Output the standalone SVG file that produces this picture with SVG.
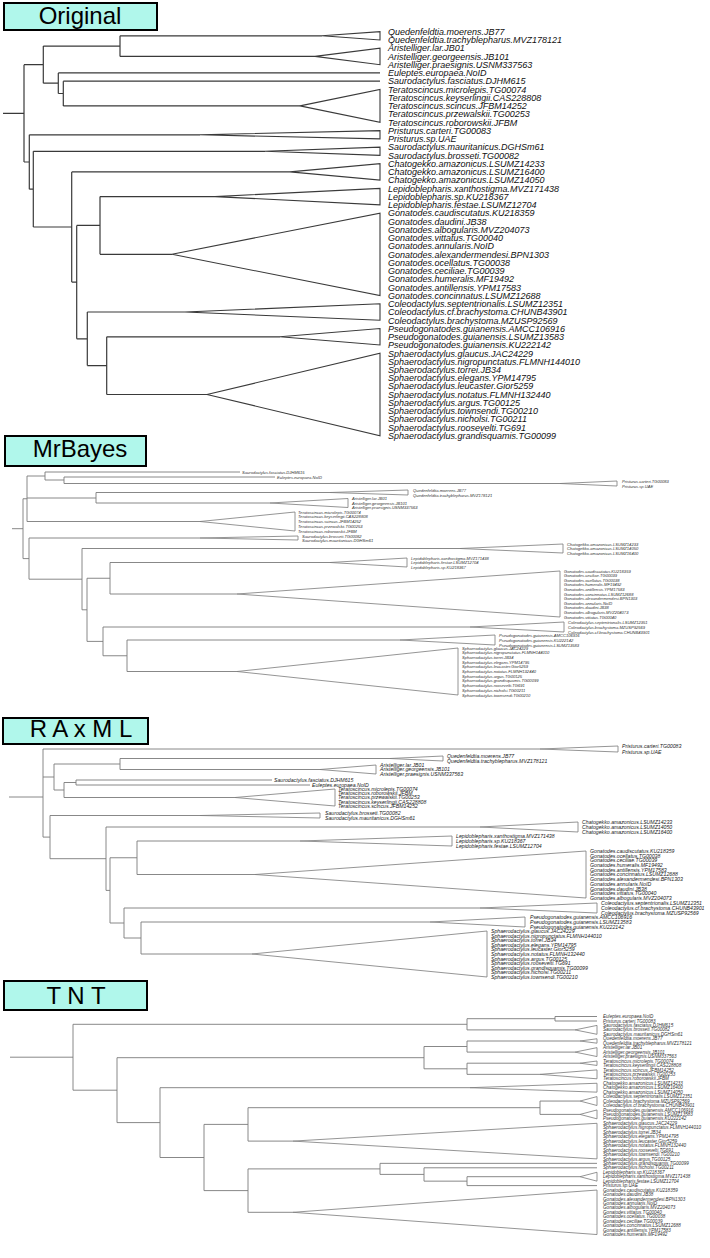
<svg xmlns="http://www.w3.org/2000/svg" width="710" height="1258" viewBox="0 0 710 1258">
<style>
.bg{fill:#fff}
.box{fill:#b0f7eb;stroke:#000;stroke-width:2}
.ttl{font-family:"Liberation Sans",Arial,sans-serif;font-size:24px;fill:#000;text-anchor:middle}
.e0{fill:none;stroke:#3a3a3a;stroke-width:1.2}
.e1{fill:none;stroke:#7a7a7a;stroke-width:0.9}
.t0{fill:none;stroke:#3a3a3a;stroke-width:1.1}
.t1{fill:none;stroke:#7a7a7a;stroke-width:0.8}
.l0{font-family:"Liberation Sans",Arial,sans-serif;font-style:italic;font-size:9px;fill:#111}
.lm{font-family:"Liberation Sans",Arial,sans-serif;font-style:italic;font-size:4.1px;fill:#333}
.lr{font-family:"Liberation Sans",Arial,sans-serif;font-style:italic;font-size:5.2px;fill:#222}
.lt{font-family:"Liberation Sans",Arial,sans-serif;font-style:italic;font-size:4.6px;fill:#333}
</style>
<rect class="bg" x="0" y="0" width="710" height="1258"/>

<!-- ================= ORIGINAL ================= -->
<g id="title-original"><rect class="box" x="4" y="3" width="153" height="27"/><text class="ttl" x="80" y="24">Original</text></g>
<g id="orig-connectors" class="e0">
<path d="M3 113.3H24M24 64.7V162M24 64.7H43.3M43.3 46.1V83.2M43.3 46.1H120M120 35.8V56.4M120 35.8H322M120 56.4H315M43.3 83.2H58.3M58.3 72.9V93.5M58.3 72.9H380M58.3 93.5H63.3M63.3 81.2V105.9M63.3 81.2H380M63.3 105.9H300M24 162H29.3M29.3 134.8V189.2M29.3 134.8H200M29.3 189.2H33.3M33.3 151.3V227M33.3 151.3H265M33.3 227H71.7M71.7 171.9V282.1M71.7 171.9H290M71.7 282.1H76.7M76.7 225.4V338.8M76.7 225.4H100M100 196.6V254.3M100 196.6H215M100 254.3H172M76.7 338.8H87.3M87.3 312V365.6M87.3 312H185M87.3 365.6H106.7M106.7 336.8V394.5M106.7 336.8H280M106.7 394.5H207"/>
</g>
<g id="orig-quedenfeldtia"><polygon class="t0" points="322,35.8 380,31.7 380,39.95"/><text class="l0"><tspan x="388" y="34.9">Quedenfeldtia.moerens.JB77</tspan><tspan x="388" y="43.15">Quedenfeldtia.trachyblepharus.MVZ178121</tspan></text></g>
<g id="orig-aristelliger"><polygon class="t0" points="315,56.4 380,48.2 380,64.7"/><text class="l0"><tspan x="388" y="51.4">Aristelliger.lar.JB01</tspan><tspan x="388" y="59.6">Aristelliger.georgeensis.JB101</tspan><tspan x="388" y="67.9">Aristelliger.praesignis.USNM337563</tspan></text></g>
<g id="orig-euleptes"><text class="l0" x="388" y="76.1">Euleptes.europaea.NoID</text></g>
<g id="orig-sfasciatus"><text class="l0" x="388" y="84.4">Saurodactylus.fasciatus.DJHM615</text></g>
<g id="orig-teratoscincus"><polygon class="t0" points="300,105.9 380,89.4 380,122.4"/><text class="l0"><tspan x="388" y="92.6">Teratoscincus.microlepis.TG00074</tspan><tspan x="388" y="100.9">Teratoscincus.keyserlingii.CAS228808</tspan><tspan x="388" y="109.1">Teratoscincus.scincus.JFBM14252</tspan><tspan x="388" y="117.4">Teratoscincus.przewalskii.TG00253</tspan><tspan x="388" y="125.6">Teratoscincus.roborowskii.JFBM</tspan></text></g>
<g id="orig-pristurus"><polygon class="t0" points="200,134.8 380,130.6 380,138.9"/><text class="l0"><tspan x="388" y="133.8">Pristurus.carteri.TG00083</tspan><tspan x="388" y="142.1">Pristurus.sp.UAE</tspan></text></g>
<g id="orig-saurodactylus"><polygon class="t0" points="265,151.3 380,147.1 380,155.4"/><text class="l0"><tspan x="388" y="150.3">Saurodactylus.mauritanicus.DGHSm61</tspan><tspan x="388" y="158.6">Saurodactylus.brosseti.TG00082</tspan></text></g>
<g id="orig-chatogekko"><polygon class="t0" points="290,171.9 380,163.6 380,180.1"/><text class="l0"><tspan x="388" y="166.8">Chatogekko.amazonicus.LSUMZ14233</tspan><tspan x="388" y="175.1">Chatogekko.amazonicus.LSUMZ16400</tspan><tspan x="388" y="183.3">Chatogekko.amazonicus.LSUMZ14050</tspan></text></g>
<g id="orig-lepidoblepharis"><polygon class="t0" points="215,196.6 380,188.4 380,204.85"/><text class="l0"><tspan x="388" y="191.6">Lepidoblepharis.xanthostigma.MVZ171438</tspan><tspan x="388" y="199.8">Lepidoblepharis.sp.KU218367</tspan><tspan x="388" y="208.1">Lepidoblepharis.festae.LSUMZ12704</tspan></text></g>
<g id="orig-gonatodes"><polygon class="t0" points="172,254.3 380,213.1 380,295.5"/><text class="l0"><tspan x="388" y="216.3">Gonatodes.caudiscutatus.KU218359</tspan><tspan x="388" y="224.5">Gonatodes.daudini.JB38</tspan><tspan x="388" y="232.8">Gonatodes.albogularis.MVZ204073</tspan><tspan x="388" y="241">Gonatodes.vittatus.TG00040</tspan><tspan x="388" y="249.3">Gonatodes.annularis.NoID</tspan><tspan x="388" y="257.5">Gonatodes.alexandermendesi.BPN1303</tspan><tspan x="388" y="265.8">Gonatodes.ocellatus.TG00038</tspan><tspan x="388" y="274">Gonatodes.ceciliae.TG00039</tspan><tspan x="388" y="282.3">Gonatodes.humeralis.MF19492</tspan><tspan x="388" y="290.5">Gonatodes.antillensis.YPM17583</tspan><tspan x="388" y="298.7">Gonatodes.concinnatus.LSUMZ12688</tspan></text></g>
<g id="orig-coleodactylus"><polygon class="t0" points="185,312 380,303.8 380,320.3"/><text class="l0"><tspan x="388" y="307">Coleodactylus.septentrionalis.LSUMZ12351</tspan><tspan x="388" y="315.2">Coleodactylus.cf.brachystoma.CHUNB43901</tspan><tspan x="388" y="323.5">Coleodactylus.brachystoma.MZUSP92569</tspan></text></g>
<g id="orig-pseudogonatodes"><polygon class="t0" points="280,336.8 380,328.5 380,345"/><text class="l0"><tspan x="388" y="331.7">Pseudogonatodes.guianensis.AMCC106916</tspan><tspan x="388" y="340">Pseudogonatodes.guianensis.LSUMZ13583</tspan><tspan x="388" y="348.2">Pseudogonatodes.guianensis.KU222142</tspan></text></g>
<g id="orig-sphaerodactylus"><polygon class="t0" points="207,394.5 380,353.3 380,435.7"/><text class="l0"><tspan x="388" y="356.5">Sphaerodactylus.glaucus.JAC24229</tspan><tspan x="388" y="364.7">Sphaerodactylus.nigropunctatus.FLMNH144010</tspan><tspan x="388" y="373">Sphaerodactylus.torrei.JB34</tspan><tspan x="388" y="381.2">Sphaerodactylus.elegans.YPM14795</tspan><tspan x="388" y="389.4">Sphaerodactylus.leucaster.Gior5259</tspan><tspan x="388" y="397.7">Sphaerodactylus.notatus.FLMNH132440</tspan><tspan x="388" y="405.9">Sphaerodactylus.argus.TG00125</tspan><tspan x="388" y="414.2">Sphaerodactylus.townsendi.TG00210</tspan><tspan x="388" y="422.4">Sphaerodactylus.nicholsi.TG00211</tspan><tspan x="388" y="430.7">Sphaerodactylus.roosevelti.TG691</tspan><tspan x="388" y="438.9">Sphaerodactylus.grandisquamis.TG00099</tspan></text></g>

<!-- ================= MRBAYES ================= -->
<g id="title-mrbayes"><rect class="box" x="5" y="436" width="141" height="30"/><text class="ttl" x="80" y="457">MrBayes</text></g>
<g id="mb-connectors" class="e1">
<path d="M12 528.7H23M23 498.75V558.6M23 498.75H27M27 476V521.5M27 476H45M45 472V480M45 472H240M45 480H64M64 477V483.5M64 477H275M64 483.5H560M27 498H96M96 492.5V503M96 492.5H330M96 503H270M27 521.5H200M23 558.6H29M29 538V579.2M29 538H200M29 579.2H82M82 548.5V609.8M82 548.5H460M82 609.8H87M87 578.25V641.4M87 578.25H110M110 562.5V594M110 562.5H330M110 594H237M87 641.4H103M103 627V655.75M103 627H470M103 655.75H127M127 640V671.5M127 640H400M127 671.5H237"/>
</g>
<g id="mb-sfasciatus"><text class="lm" x="242" y="473.5">Saurodactylus.fasciatus.DJHM615</text></g>
<g id="mb-euleptes"><text class="lm" x="277" y="478.5">Euleptes.europaea.NoID</text></g>
<g id="mb-pristurus"><polygon class="t1" points="560,483.5 617,481 617,486"/><text class="lm"><tspan x="622" y="482.5">Pristurus.carteri.TG00083</tspan><tspan x="622" y="487.5">Pristurus.sp.UAE</tspan></text></g>
<g id="mb-quedenfeldtia"><polygon class="t1" points="330,492.5 408,490 408,495"/><text class="lm"><tspan x="413" y="491.5">Quedenfeldtia.moerens.JB77</tspan><tspan x="413" y="496.5">Quedenfeldtia.trachyblepharus.MVZ178121</tspan></text></g>
<g id="mb-aristelliger"><polygon class="t1" points="270,503 348,498.5 348,507.5"/><text class="lm"><tspan x="352" y="500">Aristelliger.lar.JB01</tspan><tspan x="352" y="504.5">Aristelliger.georgeensis.JB101</tspan><tspan x="352" y="509">Aristelliger.praesignis.USNM337563</tspan></text></g>
<g id="mb-teratoscincus"><polygon class="t1" points="200,521.5 295,512 295,531"/><text class="lm"><tspan x="298" y="513.5">Teratoscincus.microlepis.TG00074</tspan><tspan x="298" y="518.25">Teratoscincus.keyserlingii.CAS228808</tspan><tspan x="298" y="523">Teratoscincus.scincus.JFBM14252</tspan><tspan x="298" y="527.75">Teratoscincus.przewalskii.TG00253</tspan><tspan x="298" y="532.5">Teratoscincus.roborowskii.JFBM</tspan></text></g>
<g id="mb-saurodactylus"><polygon class="t1" points="200,538 298,536 298,540"/><text class="lm"><tspan x="302" y="537.5">Saurodactylus.brosseti.TG00082</tspan><tspan x="302" y="541.5">Saurodactylus.mauritanicus.DGHSm61</tspan></text></g>
<g id="mb-chatogekko"><polygon class="t1" points="460,548.5 563,544 563,553"/><text class="lm"><tspan x="567" y="545.5">Chatogekko.amazonicus.LSUMZ14233</tspan><tspan x="567" y="550">Chatogekko.amazonicus.LSUMZ14050</tspan><tspan x="567" y="554.5">Chatogekko.amazonicus.LSUMZ16400</tspan></text></g>
<g id="mb-lepidoblepharis"><polygon class="t1" points="330,562.5 407,558 407,567"/><text class="lm"><tspan x="411" y="559.5">Lepidoblepharis.xanthostigma.MVZ171438</tspan><tspan x="411" y="564">Lepidoblepharis.festae.LSUMZ12704</tspan><tspan x="411" y="568.5">Lepidoblepharis.sp.KU218367</tspan></text></g>
<g id="mb-gonatodes"><polygon class="t1" points="237,594 560,571 560,617"/><text class="lm"><tspan x="564" y="572.5">Gonatodes.caudiscutatus.KU218359</tspan><tspan x="564" y="577.1">Gonatodes.ceciliae.TG00039</tspan><tspan x="564" y="581.7">Gonatodes.ocellatus.TG00038</tspan><tspan x="564" y="586.3">Gonatodes.humeralis.MF19492</tspan><tspan x="564" y="590.9">Gonatodes.antillensis.YPM17583</tspan><tspan x="564" y="595.5">Gonatodes.concinnatus.LSUMZ12688</tspan><tspan x="564" y="600.1">Gonatodes.alexandermendesi.BPN1303</tspan><tspan x="564" y="604.7">Gonatodes.annularis.NoID</tspan><tspan x="564" y="609.3">Gonatodes.daudini.JB38</tspan><tspan x="564" y="613.9">Gonatodes.albogularis.MVZ204073</tspan><tspan x="564" y="618.5">Gonatodes.vittatus.TG00040</tspan></text></g>
<g id="mb-coleodactylus"><polygon class="t1" points="470,627 564,622 564,632"/><text class="lm"><tspan x="568" y="623.5">Coleodactylus.septentrionalis.LSUMZ12351</tspan><tspan x="568" y="628.5">Coleodactylus.brachystoma.MZUSP92569</tspan><tspan x="568" y="633.5">Coleodactylus.cf.brachystoma.CHUNB43901</tspan></text></g>
<g id="mb-pseudogonatodes"><polygon class="t1" points="400,640 495,635 495,645"/><text class="lm"><tspan x="499" y="636.5">Pseudogonatodes.guianensis.AMCC106916</tspan><tspan x="499" y="641.5">Pseudogonatodes.guianensis.KU222142</tspan><tspan x="499" y="646.5">Pseudogonatodes.guianensis.LSUMZ13583</tspan></text></g>
<g id="mb-sphaerodactylus"><polygon class="t1" points="237,671.5 458,648 458,695"/><text class="lm"><tspan x="462" y="649.5">Sphaerodactylus.glaucus.JAC24229</tspan><tspan x="462" y="654.2">Sphaerodactylus.nigropunctatus.FLMNH144010</tspan><tspan x="462" y="658.9">Sphaerodactylus.torrei.JB34</tspan><tspan x="462" y="663.6">Sphaerodactylus.elegans.YPM14795</tspan><tspan x="462" y="668.3">Sphaerodactylus.leucaster.Gior5259</tspan><tspan x="462" y="673">Sphaerodactylus.notatus.FLMNH132440</tspan><tspan x="462" y="677.7">Sphaerodactylus.argus.TG00125</tspan><tspan x="462" y="682.4">Sphaerodactylus.grandisquamis.TG00099</tspan><tspan x="462" y="687.1">Sphaerodactylus.roosevelti.TG691</tspan><tspan x="462" y="691.8">Sphaerodactylus.nicholsi.TG00211</tspan><tspan x="462" y="696.5">Sphaerodactylus.townsendi.TG00210</tspan></text></g>

<!-- ================= RAXML ================= -->
<g id="title-raxml"><rect class="box" x="3" y="718" width="145" height="26"/><text class="ttl" x="81" y="737">R A x M L</text></g>
<g id="rx-connectors" class="e1">
<path d="M9 797H43M43 749V837.1M43 749H540M43 777H54M54 764V790M54 764H120M120 758.5V769.5M120 758.5H390M120 769.5H320M54 790H64M64 782.5V797.5M64 782.5H76M76 780V785M76 780H272M76 785H310M64 797.5H235M43 837.1H50M50 815.5V858.7M50 815.5H200M50 858.7H106M106 827V890.4M106 827H480M106 890.4H110M110 857.75V923M110 857.75H137M137 841V874.5M137 841H300M137 874.5H255M110 923H124M124 908V938M124 908H480M124 938H141M141 922V954M141 922H430M141 954H252"/>
</g>
<g id="rx-pristurus"><polygon class="t1" points="540,749 618,746 618,752"/><text class="lr"><tspan x="622" y="747.9">Pristurus.carteri.TG00083</tspan><tspan x="622" y="753.9">Pristurus.sp.UAE</tspan></text></g>
<g id="rx-quedenfeldtia"><polygon class="t1" points="390,758.5 443,756 443,761"/><text class="lr"><tspan x="447" y="757.9">Quedenfeldtia.moerens.JB77</tspan><tspan x="447" y="762.9">Quedenfeldtia.trachyblepharus.MVZ178121</tspan></text></g>
<g id="rx-aristelliger"><polygon class="t1" points="320,769.5 376,765 376,774"/><text class="lr"><tspan x="380" y="766.9">Aristelliger.lar.JB01</tspan><tspan x="380" y="771.4">Aristelliger.georgeensis.JB101</tspan><tspan x="380" y="775.9">Aristelliger.praesignis.USNM337563</tspan></text></g>
<g id="rx-sfasciatus"><text class="lr" x="274" y="781.9">Saurodactylus.fasciatus.DJHM615</text></g>
<g id="rx-euleptes"><text class="lr" x="312" y="786.9">Euleptes.europaea.NoID</text></g>
<g id="rx-teratoscincus"><polygon class="t1" points="235,797.5 335,789 335,806"/><text class="lr"><tspan x="338" y="790.9">Teratoscincus.microlepis.TG00074</tspan><tspan x="338" y="795.15">Teratoscincus.roborowskii.JFBM</tspan><tspan x="338" y="799.4">Teratoscincus.przewalskii.TG00253</tspan><tspan x="338" y="803.65">Teratoscincus.keyserlingii.CAS228808</tspan><tspan x="338" y="807.9">Teratoscincus.scincus.JFBM14252</tspan></text></g>
<g id="rx-saurodactylus"><polygon class="t1" points="200,815.5 320,813 320,818"/><text class="lr"><tspan x="325" y="814.9">Saurodactylus.brosseti.TG00082</tspan><tspan x="325" y="819.9">Saurodactylus.mauritanicus.DGHSm61</tspan></text></g>
<g id="rx-chatogekko"><polygon class="t1" points="480,827 578,822 578,832"/><text class="lr"><tspan x="582" y="823.9">Chatogekko.amazonicus.LSUMZ14233</tspan><tspan x="582" y="828.9">Chatogekko.amazonicus.LSUMZ14050</tspan><tspan x="582" y="833.9">Chatogekko.amazonicus.LSUMZ16400</tspan></text></g>
<g id="rx-lepidoblepharis"><polygon class="t1" points="300,841 452,836 452,846"/><text class="lr"><tspan x="456" y="837.9">Lepidoblepharis.xanthostigma.MVZ171438</tspan><tspan x="456" y="842.9">Lepidoblepharis.sp.KU218367</tspan><tspan x="456" y="847.9">Lepidoblepharis.festae.LSUMZ12704</tspan></text></g>
<g id="rx-gonatodes"><polygon class="t1" points="255,874.5 586,851 586,898"/><text class="lr"><tspan x="590" y="852.9">Gonatodes.caudiscutatus.KU218359</tspan><tspan x="590" y="857.6">Gonatodes.ocellatus.TG00038</tspan><tspan x="590" y="862.3">Gonatodes.ceciliae.TG00039</tspan><tspan x="590" y="867">Gonatodes.humeralis.MF19492</tspan><tspan x="590" y="871.7">Gonatodes.antillensis.YPM17583</tspan><tspan x="590" y="876.4">Gonatodes.concinnatus.LSUMZ12688</tspan><tspan x="590" y="881.1">Gonatodes.alexandermendesi.BPN1303</tspan><tspan x="590" y="885.8">Gonatodes.annularis.NoID</tspan><tspan x="590" y="890.5">Gonatodes.daudini.JB38</tspan><tspan x="590" y="895.2">Gonatodes.vittatus.TG00040</tspan><tspan x="590" y="899.9">Gonatodes.albogularis.MVZ204073</tspan></text></g>
<g id="rx-coleodactylus"><polygon class="t1" points="480,908 597,903 597,913"/><text class="lr"><tspan x="601" y="904.9">Coleodactylus.septentrionalis.LSUMZ12351</tspan><tspan x="601" y="909.9">Coleodactylus.cf.brachystoma.CHUNB43901</tspan><tspan x="601" y="914.9">Coleodactylus.brachystoma.MZUSP92569</tspan></text></g>
<g id="rx-pseudogonatodes"><polygon class="t1" points="430,922 525,917 525,927"/><text class="lr"><tspan x="530" y="918.9">Pseudogonatodes.guianensis.AMCC106916</tspan><tspan x="530" y="923.9">Pseudogonatodes.guianensis.LSUMZ13583</tspan><tspan x="530" y="928.9">Pseudogonatodes.guianensis.KU222142</tspan></text></g>
<g id="rx-sphaerodactylus"><polygon class="t1" points="252,954 487,931 487,977"/><text class="lr"><tspan x="491" y="932.9">Sphaerodactylus.glaucus.JAC24229</tspan><tspan x="491" y="937.5">Sphaerodactylus.nigropunctatus.FLMNH144010</tspan><tspan x="491" y="942.1">Sphaerodactylus.torrei.JB34</tspan><tspan x="491" y="946.7">Sphaerodactylus.elegans.YPM14795</tspan><tspan x="491" y="951.3">Sphaerodactylus.leucaster.Gior5259</tspan><tspan x="491" y="955.9">Sphaerodactylus.notatus.FLMNH132440</tspan><tspan x="491" y="960.5">Sphaerodactylus.argus.TG00125</tspan><tspan x="491" y="965.1">Sphaerodactylus.roosevelti.TG691</tspan><tspan x="491" y="969.7">Sphaerodactylus.grandisquamis.TG00099</tspan><tspan x="491" y="974.3">Sphaerodactylus.nicholsi.TG00211</tspan><tspan x="491" y="978.9">Sphaerodactylus.townsendi.TG00210</tspan></text></g>

<!-- ================= TNT ================= -->
<g id="title-tnt"><rect class="box" x="4" y="981" width="143" height="29"/><text class="ttl" x="76" y="1004">T N T</text></g>
<g id="tnt-connectors" class="e1">
<path d="M10 1057.2H73M73 1024.3V1090.2M73 1024.3H467M467 1018.7V1029.9M467 1018.7H555M555 1016.5V1021M555 1016.5H597M555 1021H597M467 1029.9H575M73 1090.2H117M117 1057.7V1122.6M117 1057.7H424M424 1046.5V1068.8M424 1046.5H467M467 1041V1052.1M467 1041H580M467 1052.1H575M424 1068.8H467M467 1063.2V1074.35M467 1063.2H580M467 1074.35H540M117 1122.6H160M160 1087.7V1157.5M160 1087.7H470M160 1157.5H204M204 1124.4V1190.6M204 1124.4H248M248 1107.7V1141.1M248 1107.7H540M540 1101.05V1114.4M540 1101.05H580M540 1114.4H580M248 1141.1H293M204 1190.6H248M248 1168.9V1212.3M248 1168.9H380M380 1163.35V1174.4M380 1163.35H597M380 1174.4H424M424 1167.8V1181.15M424 1167.8H597M424 1181.15H467M467 1176.7V1185.6M467 1176.7H580M467 1185.6H597M248 1212.3H293"/>
</g>
<g id="tnt-euleptes-pristurus"><text class="lt"><tspan x="603" y="1018.1">Euleptes.europaea.NoID</tspan><tspan x="603" y="1022.55">Pristurus.carteri.TG00083</tspan></text></g>
<g id="tnt-saurodactylus"><polygon class="t1" points="575,1029.9 597,1025.4 597,1034.3"/><text class="lt"><tspan x="603" y="1027">Saurodactylus.fasciatus.DJHM615</tspan><tspan x="603" y="1031.45">Saurodactylus.brosseti.TG00082</tspan><tspan x="603" y="1035.9">Saurodactylus.mauritanicus.DGHSm61</tspan></text></g>
<g id="tnt-quedenfeldtia"><polygon class="t1" points="580,1041 597,1038.75 597,1043.2"/><text class="lt"><tspan x="603" y="1040.35">Quedenfeldtia.moerens.JB77</tspan><tspan x="603" y="1044.8">Quedenfeldtia.trachyblepharus.MVZ178121</tspan></text></g>
<g id="tnt-aristelliger"><polygon class="t1" points="575,1052.1 597,1047.65 597,1056.55"/><text class="lt"><tspan x="603" y="1049.25">Aristelliger.lar.JB01</tspan><tspan x="603" y="1053.7">Aristelliger.georgeensis.JB101</tspan><tspan x="603" y="1058.15">Aristelliger.praesignis.USNM337563</tspan></text></g>
<g id="tnt-teratoscincus-a"><polygon class="t1" points="580,1063.2 597,1061 597,1065.45"/><text class="lt"><tspan x="603" y="1062.6">Teratoscincus.microlepis.TG00074</tspan><tspan x="603" y="1067.05">Teratoscincus.keyserlingii.CAS228808</tspan></text></g>
<g id="tnt-teratoscincus-b"><polygon class="t1" points="540,1074.35 597,1069.9 597,1078.8"/><text class="lt"><tspan x="603" y="1071.5">Teratoscincus.scincus.JFBM14252</tspan><tspan x="603" y="1075.95">Teratoscincus.przewalskii.TG00253</tspan><tspan x="603" y="1080.4">Teratoscincus.roborowskii.JFBM</tspan></text></g>
<g id="tnt-chatogekko"><polygon class="t1" points="470,1087.7 597,1083.25 597,1092.15"/><text class="lt"><tspan x="603" y="1084.85">Chatogekko.amazonicus.LSUMZ14233</tspan><tspan x="603" y="1089.3">Chatogekko.amazonicus.LSUMZ16400</tspan><tspan x="603" y="1093.75">Chatogekko.amazonicus.LSUMZ14050</tspan></text></g>
<g id="tnt-coleodactylus"><polygon class="t1" points="580,1101.05 597,1096.6 597,1105.5"/><text class="lt"><tspan x="603" y="1098.2">Coleodactylus.septentrionalis.LSUMZ12351</tspan><tspan x="603" y="1102.65">Coleodactylus.brachystoma.MZUSP92569</tspan><tspan x="603" y="1107.1">Coleodactylus.cf.brachystoma.CHUNB43901</tspan></text></g>
<g id="tnt-pseudogonatodes"><polygon class="t1" points="580,1114.4 597,1109.95 597,1118.85"/><text class="lt"><tspan x="603" y="1111.55">Pseudogonatodes.guianensis.AMCC106916</tspan><tspan x="603" y="1116">Pseudogonatodes.guianensis.LSUMZ13583</tspan><tspan x="603" y="1120.45">Pseudogonatodes.guianensis.KU222142</tspan></text></g>
<g id="tnt-sphaerodactylus"><polygon class="t1" points="293,1141.1 597,1123.3 597,1158.9"/><text class="lt"><tspan x="603" y="1124.9">Sphaerodactylus.glaucus.JAC24229</tspan><tspan x="603" y="1129.35">Sphaerodactylus.nigropunctatus.FLMNH144010</tspan><tspan x="603" y="1133.8">Sphaerodactylus.torrei.JB34</tspan><tspan x="603" y="1138.25">Sphaerodactylus.elegans.YPM14795</tspan><tspan x="603" y="1142.7">Sphaerodactylus.leucaster.Gior5259</tspan><tspan x="603" y="1147.15">Sphaerodactylus.notatus.FLMNH132440</tspan><tspan x="603" y="1151.6">Sphaerodactylus.roosevelti.TG691</tspan><tspan x="603" y="1156.05">Sphaerodactylus.townsendi.TG00210</tspan><tspan x="603" y="1160.5">Sphaerodactylus.argus.TG00125</tspan></text></g>
<g id="tnt-sph-grandisquamis"><text class="lt" x="603" y="1164.95">Sphaerodactylus.grandisquamis.TG00099</text></g>
<g id="tnt-sph-nicholsi"><text class="lt" x="603" y="1169.4">Sphaerodactylus.nicholsi.TG00211</text></g>
<g id="tnt-lepidoblepharis"><polygon class="t1" points="580,1176.7 597,1172.25 597,1181.15"/><text class="lt"><tspan x="603" y="1173.85">Lepidoblepharis.sp.KU218367</tspan><tspan x="603" y="1178.3">Lepidoblepharis.xanthostigma.MVZ171438</tspan><tspan x="603" y="1182.75">Lepidoblepharis.festae.LSUMZ12704</tspan></text></g>
<g id="tnt-pristurus-sp"><text class="lt" x="603" y="1187.2">Pristurus.sp.UAE</text></g>
<g id="tnt-gonatodes"><polygon class="t1" points="293,1212.3 597,1190.05 597,1234.55"/><text class="lt"><tspan x="603" y="1191.65">Gonatodes.caudiscutatus.KU218359</tspan><tspan x="603" y="1196.1">Gonatodes.daudini.JB38</tspan><tspan x="603" y="1200.55">Gonatodes.alexandermendesi.BPN1303</tspan><tspan x="603" y="1205">Gonatodes.annularis.NoID</tspan><tspan x="603" y="1209.45">Gonatodes.albogularis.MVZ204073</tspan><tspan x="603" y="1213.9">Gonatodes.vittatus.TG00040</tspan><tspan x="603" y="1218.35">Gonatodes.ocellatus.TG00038</tspan><tspan x="603" y="1222.8">Gonatodes.ceciliae.TG00039</tspan><tspan x="603" y="1227.25">Gonatodes.concinnatus.LSUMZ12688</tspan><tspan x="603" y="1231.7">Gonatodes.antillensis.YPM17583</tspan><tspan x="603" y="1236.15">Gonatodes.humeralis.MF19492</tspan></text></g>
</svg>
